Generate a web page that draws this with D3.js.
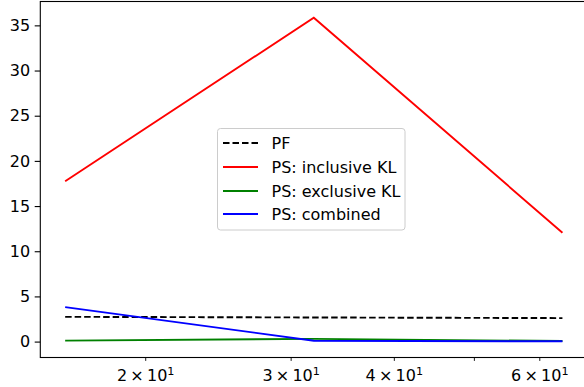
<!DOCTYPE html>
<html>
<head>
<meta charset="utf-8">
<script src="https://cdn.jsdelivr.net/npm/d3@7"></script>
<style>
  html, body { margin: 0; padding: 0; background: #fff; }
  svg { display: block; font-family: "DejaVu Sans", sans-serif; }
</style>
</head>
<body>
<svg id="chart" width="584" height="387"></svg>
<script>
// ---- data ----
const xValues = [16, 32, 64];
const pf = [2.74, 2.67, 2.6];
const inclusiveKL = [17.75, 35.85, 12.05];
const exclusiveKL = [0.11, 0.3, 0.06];
const combined = [3.82, 0.1, 0.03];
const xTicks = [20, 30, 40, 50, 60];
const xTickLabels = ["2", "3", "4", "", "6"];
const yTicks = [0, 5, 10, 15, 20, 25, 30, 35];
const seriesNames = ["PF", "PS: inclusive KL", "PS: exclusive KL", "PS: combined"];

(function () {
const series = [
  { name: seriesNames[0], values: pf, color: "#000000", dash: "6.5,3" },
  { name: seriesNames[1], values: inclusiveKL, color: "#ff0000", dash: null },
  { name: seriesNames[2], values: exclusiveKL, color: "#008000", dash: null },
  { name: seriesNames[3], values: combined, color: "#0000ff", dash: null }
];

const svg = d3.select("#chart");
const mLeft = 40.3, mRight = 587.3, mTop = 1.5, mBottom = 357.5;
const fontSize = 16;

// x: log scale with 5% padding in log space
const lx0 = Math.log(d3.min(xValues)), lx1 = Math.log(d3.max(xValues));
const px = (lx1 - lx0) * 0.05;
const x = d3.scaleLog().domain([Math.exp(lx0 - px), Math.exp(lx1 + px)]).range([mLeft, mRight]);

const allY = series.flatMap(s => s.values);
const y0 = d3.min(allY), y1 = d3.max(allY);
const py = (y1 - y0) * 0.05;
const y = d3.scaleLinear().domain([y0 - py, y1 + py]).range([mBottom, mTop]);

// lines
const line = d3.line().x((d, i) => x(xValues[i])).y(d => y(d));
series.forEach(s => {
  svg.append("path")
    .datum(s.values)
    .attr("d", line)
    .attr("fill", "none")
    .attr("stroke", s.color)
    .attr("stroke-width", 1.9)
    .attr("stroke-dasharray", s.dash)
    .attr("stroke-linecap", "butt");
});

// y axis
const yAxis = d3.axisLeft(y).tickValues(yTicks).tickSize(5.6).tickPadding(4.5).tickFormat(d3.format("d"));
const gy = svg.append("g").attr("transform", `translate(${mLeft},0)`).call(yAxis);
gy.select(".domain").remove();
gy.selectAll(".tick line").attr("stroke", "#000").attr("stroke-width", 1.1);
gy.selectAll(".tick text").attr("font-size", fontSize).attr("fill", "#000")
  .attr("font-family", "DejaVu Sans");

// x axis (minor ticks, log)
const xAxis = d3.axisBottom(x).tickValues(xTicks).tickSize(3.4).tickFormat(() => "");
const gx = svg.append("g").attr("transform", `translate(0,${mBottom})`).call(xAxis);
gx.select(".domain").remove();
gx.selectAll(".tick line").attr("stroke", "#000").attr("stroke-width", 0.9);
gx.selectAll(".tick text").remove();
gx.selectAll(".tick").each(function(d, i) {
  const lab = xTickLabels[i];
  if (!lab) return;
  const t = d3.select(this).append("text")
    .attr("y", 23.5)
    .attr("text-anchor", "middle")
    .attr("font-size", fontSize)
    .attr("fill", "#000")
    .attr("font-family", "DejaVu Sans");
  t.append("tspan").text(lab + "\u2009\u00d7\u200910");
  t.append("tspan").attr("dy", -6.5).attr("font-size", fontSize * 0.7).text("1");
});

// spines
svg.append("rect")
  .attr("x", mLeft).attr("y", mTop)
  .attr("width", mRight - mLeft).attr("height", mBottom - mTop)
  .attr("fill", "none").attr("stroke", "#000").attr("stroke-width", 1.1);

// legend
const lg = svg.append("g");
lg.append("rect")
  .attr("x", 217.5).attr("y", 128.5).attr("width", 187.5).attr("height", 101.5)
  .attr("rx", 3).attr("ry", 3)
  .attr("fill", "#fff").attr("fill-opacity", 0.8)
  .attr("stroke", "#cccccc").attr("stroke-width", 1);
const rowY = [143, 167, 191, 214];
series.forEach((s, i) => {
  lg.append("line")
    .attr("x1", 223).attr("x2", 258)
    .attr("y1", rowY[i]).attr("y2", rowY[i])
    .attr("stroke", s.color).attr("stroke-width", 1.9)
    .attr("stroke-dasharray", s.dash);
  lg.append("text")
    .attr("x", 271.5).attr("y", rowY[i] + 5.6)
    .attr("font-size", fontSize).attr("fill", "#000")
    .attr("font-family", "DejaVu Sans")
    .text(s.name);
});
})();
</script>
</body>
</html>
